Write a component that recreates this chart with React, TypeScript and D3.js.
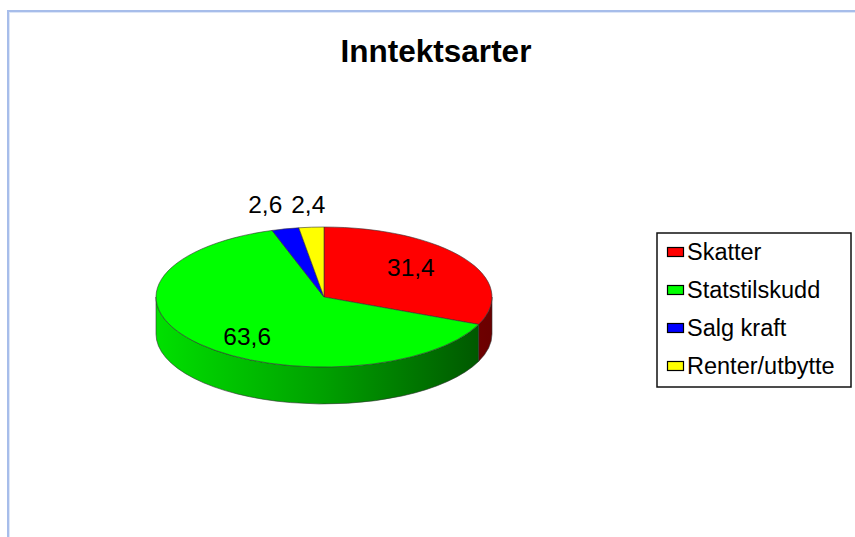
import React, { useEffect, useRef } from "react"
import * as d3 from "d3"

const categories = ["Skatter", "Statstilskudd", "Salg kraft", "Renter/utbytte"]
const values = [31.4, 63.6, 2.6, 2.4]
const topColors = ["#ff0000", "#00ff00", "#0000ff", "#ffff00"]
const labelText = ["31,4", "63,6", "2,6", "2,4"]

const W = 855
const H = 537

export default function App() {
    const ref = useRef<SVGSVGElement>(null)

    useEffect(() => {
        const svg = d3.select(ref.current)
        svg.selectAll("*").remove()

        const font = "'Liberation Sans', Arial, sans-serif"

        // frame
        svg.append("rect").attr("x", 8).attr("y", 11).attr("width", 900).attr("height", 600)
            .attr("fill", "white").attr("stroke", "#a7bdea").attr("stroke-width", 2)
        svg.append("rect").attr("x", 9.5).attr("y", 12.5).attr("width", 900).attr("height", 600)
            .attr("fill", "none").attr("stroke", "#dde6f7").attr("stroke-width", 1)

        svg.append("text")
            .attr("x", 436).attr("y", 62)
            .attr("text-anchor", "middle")
            .attr("font-family", font).attr("font-weight", "bold").attr("font-size", 31.5)
            .attr("fill", "#000")
            .text("Inntektsarter")

        const cx = 324, cy = 297, rx = 168, ry = 70, depth = 37

        const defs = svg.append("defs")
        const sideGrad = (id: string, light: string, mid: string, dark: string) => {
            const g = defs.append("linearGradient").attr("id", id)
                .attr("gradientUnits", "userSpaceOnUse")
                .attr("x1", cx - rx).attr("y1", 0).attr("x2", cx + rx).attr("y2", 0)
            g.append("stop").attr("offset", "0%").style("stop-color", light)
            g.append("stop").attr("offset", "50%").style("stop-color", mid)
            g.append("stop").attr("offset", "100%").style("stop-color", dark)
        }
        sideGrad("sideRed", "#e00000", "#a00000", "#6a0000")
        sideGrad("sideGreen", "#00e000", "#00a000", "#005200")
        sideGrad("sideBlue", "#0000e0", "#0000a0", "#00006a")
        sideGrad("sideYellow", "#e0e000", "#a0a000", "#6a6a00")
        const sideFills = ["url(#sideRed)", "url(#sideGreen)", "url(#sideBlue)", "url(#sideYellow)"]

        const pie = d3.pie<number>().sort(null).value(d => d)
        const arcs = pie(values)

        const pt = (a: number, dy = 0) => [cx + rx * Math.sin(a), cy - ry * Math.cos(a) + dy]

        // sides (front half only)
        arcs.forEach((d, i) => {
            const a0 = Math.max(d.startAngle, Math.PI / 2)
            const a1 = Math.min(d.endAngle, Math.PI * 1.5)
            if (a1 <= a0) return
            const p0 = pt(a0), p1 = pt(a1), q1 = pt(a1, depth), q0 = pt(a0, depth)
            const path = `M${p0[0]},${p0[1]} A${rx},${ry} 0 0 1 ${p1[0]},${p1[1]} L${q1[0]},${q1[1]} A${rx},${ry} 0 0 0 ${q0[0]},${q0[1]} Z`
            svg.append("path").attr("d", path)
                .attr("fill", sideFills[i])
                .attr("stroke", "#333").attr("stroke-width", 0.6)
        })

        // top faces
        arcs.forEach((d, i) => {
            const p0 = pt(d.startAngle), p1 = pt(d.endAngle)
            const large = d.endAngle - d.startAngle > Math.PI ? 1 : 0
            const path = `M${cx},${cy} L${p0[0]},${p0[1]} A${rx},${ry} 0 ${large} 1 ${p1[0]},${p1[1]} Z`
            svg.append("path").attr("d", path)
                .attr("fill", topColors[i])
                .attr("stroke", "#333").attr("stroke-width", 0.6)
        })

        // labels: big slices inside, small ones above the pie, pushed apart
        const labels = arcs.map((d, i) => {
            const mid = (d.startAngle + d.endAngle) / 2
            if (values[i] >= 5) {
                return { i, x: cx + rx * 0.62 * Math.sin(mid), y: cy - ry * 0.8 * Math.cos(mid) + 10, out: false }
            }
            return { i, x: cx + rx * 1.45 * Math.sin(mid), y: cy - ry - 14, out: true }
        })
        const outs = labels.filter(l => l.out).sort((a, b) => a.x - b.x)
        const minGap = 43
        if (outs.length > 1) {
            const meanX = d3.mean(outs, l => l.x) as number
            const span = Math.max(minGap * (outs.length - 1), outs[outs.length - 1].x - outs[0].x)
            outs.forEach((l, k) => { l.x = meanX - span / 2 + k * (span / (outs.length - 1)) })
        }
        labels.forEach(l => {
            svg.append("text")
                .attr("x", l.x).attr("y", l.y)
                .attr("text-anchor", "middle")
                .attr("font-family", font).attr("font-size", 24.5)
                .attr("fill", "#000")
                .text(labelText[l.i])
        })

        // legend
        const lx = 657, ly = 233, lw = 194, lh = 154, rowH = 38
        svg.append("rect").attr("x", lx).attr("y", ly).attr("width", lw).attr("height", lh)
            .attr("fill", "white").attr("stroke", "#111").attr("stroke-width", 1.5)
        const rows = svg.selectAll("g.leg").data(categories).enter().append("g")
            .attr("class", "leg")
            .attr("transform", (d, i) => `translate(${lx}, ${ly + 19 + i * rowH})`)
        rows.append("rect").attr("x", 10.5).attr("y", -4.5).attr("width", 16).attr("height", 9)
            .attr("fill", (d, i) => topColors[i]).attr("stroke", "#000").attr("stroke-width", 1.2)
        rows.append("text").attr("x", 30).attr("y", 8)
            .attr("font-family", font).attr("font-size", 23.5).attr("fill", "#000")
            .text(d => d)
    }, [])

    return <svg ref={ref} width={W} height={H} style={{ position: "absolute", left: 0, top: 0 }} />
}
